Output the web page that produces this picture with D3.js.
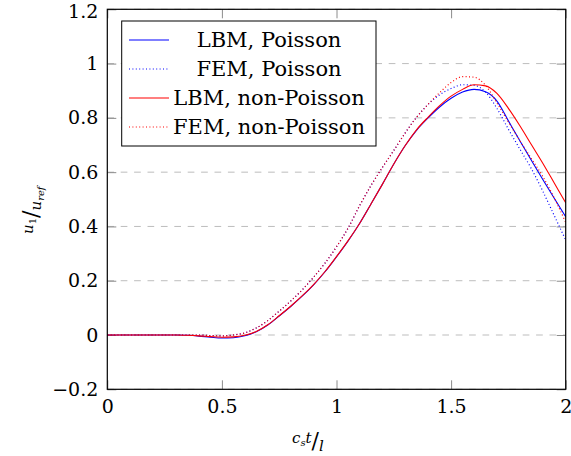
<!DOCTYPE html>
<html>
<head>
<meta charset="utf-8">
<script src="https://cdn.jsdelivr.net/npm/d3@7"></script>
<style>
  body { margin: 0; background: #fff; }
  text { font-family: "DejaVu Serif", "Liberation Serif", serif; fill: #000; }
</style>
</head>
<body>
<div class="chart"></div>
<script>
// time axis c_s t / l
var tValues = [0, 0.05, 0.1, 0.15, 0.2, 0.25, 0.3, 0.35, 0.4, 0.45, 0.5, 0.55, 0.6, 0.65, 0.7,
  0.75, 0.8, 0.85, 0.9, 0.95, 1.0, 1.05, 1.1, 1.15, 1.2, 1.25, 1.3, 1.35, 1.4, 1.45, 1.5,
  1.55, 1.6, 1.65, 1.7, 1.75, 1.8, 1.85, 1.9, 1.95, 2.0];

var lbmPoisson = [0, 0, 0, 0, 0, 0, 0, -0.001, -0.004, -0.008, -0.011, -0.010, -0.003, 0.012, 0.037,
  0.07, 0.105, 0.143, 0.185, 0.233, 0.288, 0.346, 0.41, 0.482, 0.555, 0.63, 0.698, 0.755, 0.80, 0.84, 0.872,
  0.895, 0.905, 0.896, 0.862, 0.789, 0.716, 0.644, 0.573, 0.504, 0.436];

var femPoisson = [0, 0, 0, 0, 0, 0, 0, 0, 0, -0.002, -0.003, 0, 0.008, 0.026, 0.053,
  0.088, 0.125, 0.166, 0.213, 0.265, 0.325, 0.393, 0.475, 0.55, 0.617, 0.68, 0.745, 0.803, 0.85, 0.885, 0.908,
  0.922, 0.92, 0.895, 0.835, 0.758, 0.685, 0.613, 0.53, 0.44, 0.35];

var lbmNonPoisson = [0, 0, 0, 0, 0, 0, 0, -0.001, -0.003, -0.006, -0.008, -0.007, -0.001, 0.013, 0.038,
  0.071, 0.106, 0.144, 0.186, 0.234, 0.289, 0.347, 0.41, 0.482, 0.555, 0.63, 0.698, 0.757, 0.803, 0.845, 0.88,
  0.905, 0.922, 0.918, 0.89, 0.835, 0.771, 0.702, 0.633, 0.56, 0.487];

var femNonPoisson = [0, 0, 0, 0, 0, 0, 0, 0, 0, -0.002, -0.003, 0, 0.008, 0.026, 0.053,
  0.088, 0.125, 0.166, 0.213, 0.265, 0.325, 0.393, 0.475, 0.55, 0.617, 0.68, 0.745, 0.803, 0.85, 0.893, 0.93,
  0.952, 0.95, 0.92, 0.855, 0.785, 0.716, 0.65, 0.584, 0.505, 0.415];

var seriesNames = ["LBM, Poisson", "FEM, Poisson", "LBM, non-Poisson", "FEM, non-Poisson"];
var seriesColors = ["#0000ff", "#0000ff", "#ff0000", "#ff0000"];
var seriesDotted = [false, true, false, true];

var xTicks = [0, 0.5, 1, 1.5, 2];
var yTicks = [-0.2, 0, 0.2, 0.4, 0.6, 0.8, 1, 1.2];

var svgWidth = 571;
var svgHeight = 456;

var margin = {
  top: 9.3,
  right: 5.3,
  bottom: 66.7,
  left: 107.3
};

var width = svgWidth - margin.left - margin.right;
var height = svgHeight - margin.top - margin.bottom;

var svg = d3
  .select(".chart")
  .append("svg")
  .attr("width", svgWidth)
  .attr("height", svgHeight);

var chartGroup = svg.append("g")
  .attr("transform", `translate(${margin.left}, ${margin.top})`);

var xLinearScale = d3.scaleLinear().domain([0, 2]).range([0, width]);
var yLinearScale = d3.scaleLinear().domain([-0.2, 1.2]).range([height, 0]);

var fmt = d3.format("~g");

// dashed horizontal grid
chartGroup.append("g")
  .selectAll("line")
  .data(yTicks)
  .enter()
  .append("line")
  .attr("x1", 0)
  .attr("x2", width)
  .attr("y1", d => yLinearScale(d))
  .attr("y2", d => yLinearScale(d))
  .attr("stroke", "#bdbdbd")
  .attr("stroke-width", 1)
  .attr("stroke-dasharray", "6.7,6.7");

// axes with inward ticks on all four sides
function styleAxis(g) {
  g.select(".domain").remove();
  g.selectAll(".tick line").attr("stroke", "#8c8c8c").attr("stroke-width", 1);
  g.selectAll("text")
    .attr("font-family", null)
    .attr("font-size", "19px")
    .attr("fill", "#000");
}

chartGroup.append("g")
  .attr("transform", `translate(0, ${height})`)
  .call(d3.axisBottom(xLinearScale).tickValues(xTicks).tickFormat(fmt).tickSize(-9).tickPadding(10))
  .call(styleAxis);

chartGroup.append("g")
  .call(d3.axisTop(xLinearScale).tickValues(xTicks).tickFormat("").tickSize(-9))
  .call(styleAxis);

var yAxis = chartGroup.append("g")
  .call(d3.axisLeft(yLinearScale).tickValues(yTicks).tickFormat(fmt).tickSize(-9).tickPadding(9))
  .call(styleAxis);

// top label sits right at the upper edge, nudge it down a little
yAxis.selectAll(".tick text")
  .filter(d => d === 1.2)
  .attr("dy", "0.45em");

chartGroup.append("g")
  .attr("transform", `translate(${width}, 0)`)
  .call(d3.axisRight(yLinearScale).tickValues(yTicks).tickFormat("").tickSize(-9))
  .call(styleAxis);

// curves
var allSeries = [lbmPoisson, femPoisson, lbmNonPoisson, femNonPoisson];

var line = d3.line()
  .x(d => xLinearScale(d[0]))
  .y(d => yLinearScale(d[1]))
  .curve(d3.curveMonotoneX);

var drawOrder = [0, 1, 2, 3];
drawOrder.forEach(function(i) {
  chartGroup.append("path")
    .datum(tValues.map((t, j) => [t, allSeries[i][j]]))
    .attr("d", line)
    .attr("fill", "none")
    .attr("stroke", seriesColors[i])
    .attr("stroke-width", seriesDotted[i] ? 1.2 : 1.1)
    .attr("stroke-dasharray", seriesDotted[i] ? "1,2.4" : null);
});

// frame
chartGroup.append("rect")
  .attr("x", 0)
  .attr("y", 0)
  .attr("width", width)
  .attr("height", height)
  .attr("fill", "none")
  .attr("stroke", "#000")
  .attr("stroke-width", 1.2);

// legend
var legend = svg.append("g");
legend.append("rect")
  .attr("x", 121.7)
  .attr("y", 21)
  .attr("width", 254.3)
  .attr("height", 125)
  .attr("fill", "#fff")
  .attr("stroke", "#000")
  .attr("stroke-width", 1);

seriesNames.forEach(function(name, i) {
  var cy = 40 + i * 29;
  legend.append("line")
    .attr("x1", 129)
    .attr("x2", 169)
    .attr("y1", cy)
    .attr("y2", cy)
    .attr("stroke", seriesColors[i])
    .attr("stroke-width", 1.2)
    .attr("stroke-dasharray", seriesDotted[i] ? "1,2.4" : null);
  legend.append("text")
    .attr("x", 269)
    .attr("y", cy + 7)
    .attr("text-anchor", "middle")
    .attr("font-size", "21px")
    .text(name);
});

// x axis label: c_s t / l
var xLabel = svg.append("text")
  .attr("x", 292)
  .attr("y", 443)
  .attr("font-size", "15px")
  .attr("font-style", "italic");
xLabel.append("tspan").text("c");
xLabel.append("tspan").attr("font-size", "10px").attr("dy", 3).text("s");
xLabel.append("tspan").attr("dy", -3).text("t");
xLabel.append("tspan").attr("font-style", "normal").attr("font-size", "22px").attr("dy", 5).text("/");
xLabel.append("tspan").attr("dy", 3).text("l");

// y axis label: u_1 / u_ref
var yLabel = svg.append("text")
  .attr("transform", "translate(33, 234) rotate(-90)")
  .attr("font-size", "15px")
  .attr("font-style", "italic");
yLabel.append("tspan").text("u");
yLabel.append("tspan").attr("font-size", "10px").attr("font-style", "normal").attr("dy", 3).text("1");
yLabel.append("tspan").attr("font-style", "normal").attr("font-size", "22px").attr("dy", 2).text("/");
yLabel.append("tspan").attr("dy", 3).text("u");
yLabel.append("tspan").attr("font-size", "10px").attr("dy", 3).text("ref");
</script>
</body>
</html>
